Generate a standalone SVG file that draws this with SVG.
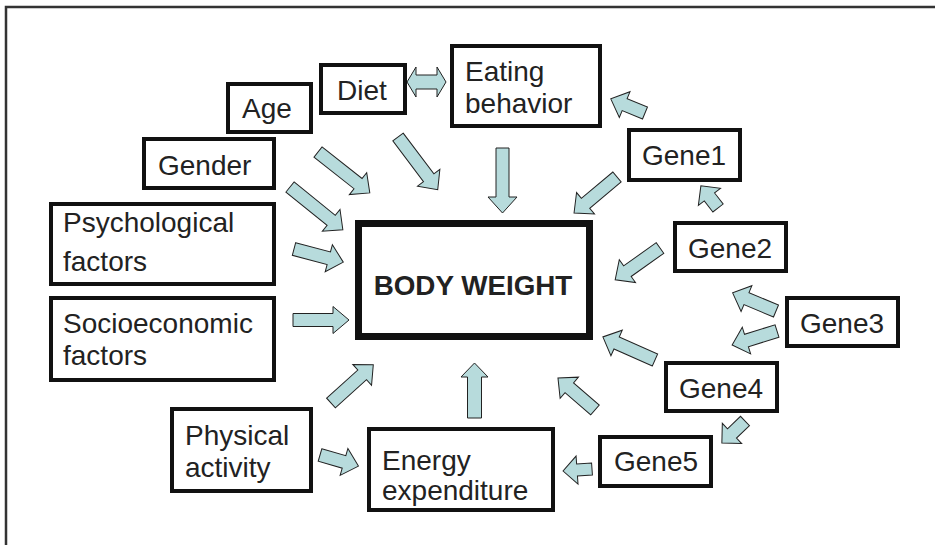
<svg xmlns="http://www.w3.org/2000/svg" width="935" height="545" viewBox="0 0 935 545">
<style>
.box{fill:#fff;stroke:#111;stroke-width:4}
.main{fill:#fff;stroke:#111;stroke-width:7}
.t{font-family:"Liberation Sans",Arial,sans-serif;font-size:28px;fill:#222}
.c{text-anchor:middle}
.b{font-weight:bold;font-size:27.8px}
.arr{fill:#b7dbdc;stroke:#222;stroke-width:1;stroke-linejoin:miter}
.frame{fill:none;stroke:#333;stroke-width:2.5}
</style>
<rect width="935" height="545" fill="#fff"/>
<path class="frame" d="M6,545 V7 H935"/>
<g id="connectors">
<path class="arr" transform="translate(318,152) rotate(38.3)" d="M0,-6.5 H51 V-14 L66,0 L51,14 V6.5 H0 Z"/>
<path class="arr" transform="translate(398,137) rotate(53)" d="M0,-6.5 H51 V-14 L66,0 L51,14 V6.5 H0 Z"/>
<path class="arr" transform="translate(290,187) rotate(39)" d="M0,-6.5 H53 V-14 L68,0 L53,14 V6.5 H0 Z"/>
<path class="arr" transform="translate(294,249) rotate(14.9)" d="M0,-6.5 H36 V-14 L51,0 L36,14 V6.5 H0 Z"/>
<path class="arr" transform="translate(293,320)" d="M0,-6.5 H40 V-13.5 L56,0 L40,13.5 V6.5 H0 Z"/>
<path class="arr" transform="translate(331,403) rotate(-42.1)" d="M0,-6.5 H42 V-14 L57,0 L42,14 V6.5 H0 Z"/>
<path class="arr" transform="translate(320,455) rotate(16.1)" d="M0,-6.5 H25 V-14 L40,0 L25,14 V6.5 H0 Z"/>
<path class="arr" transform="translate(474.5,418) rotate(-90)" d="M0,-7 H41 V-13.5 L55,0 L41,13.5 V7 H0 Z"/>
<path class="arr" transform="translate(502.5,148) rotate(90)" d="M0,-6.5 H49 V-14.5 L65,0 L49,14.5 V6.5 H0 Z"/>
<path class="arr" transform="translate(645,113) rotate(202.4)" d="M0,-6.5 H22 V-14 L37,0 L22,14 V6.5 H0 Z"/>
<path class="arr" transform="translate(617,177) rotate(140.1)" d="M0,-6.5 H41 V-14 L56,0 L41,14 V6.5 H0 Z"/>
<path class="arr" transform="translate(718,208) rotate(232.3)" d="M0,-6.5 H14 V-14 L28,0 L14,14 V6.5 H0 Z"/>
<path class="arr" transform="translate(660,248) rotate(144.6)" d="M0,-6.5 H40 V-14 L55,0 L40,14 V6.5 H0 Z"/>
<path class="arr" transform="translate(776,311) rotate(202.7)" d="M0,-6.5 H32 V-14 L47,0 L32,14 V6.5 H0 Z"/>
<path class="arr" transform="translate(777,331) rotate(162.7)" d="M0,-6.5 H32 V-14 L47,0 L32,14 V6.5 H0 Z"/>
<path class="arr" transform="translate(655,360) rotate(203.9)" d="M0,-6.5 H42 V-14 L57,0 L42,14 V6.5 H0 Z"/>
<path class="arr" transform="translate(595,410) rotate(220.9)" d="M0,-6.5 H34 V-14 L49,0 L34,14 V6.5 H0 Z"/>
<path class="arr" transform="translate(745,421) rotate(136.3)" d="M0,-6.5 H18 V-14 L32,0 L18,14 V6.5 H0 Z"/>
<path class="arr" transform="translate(592,469) rotate(176)" d="M0,-6 H15 V-14 L29,0 L15,14 V6 H0 Z"/>
<path class="arr" d="M407,82 L416,67 V75 H437 V67 L446,82 L437,97 V89 H416 V97 Z"/>
</g>
<g id="diet"><rect class="box" x="321" y="65" width="84" height="48"/><text class="t c" x="362" y="100">Diet</text></g>
<g id="age"><rect class="box" x="228" y="84" width="83" height="48"/><text class="t c" x="267" y="118">Age</text></g>
<g id="gender"><rect class="box" x="144" y="139" width="130" height="49"/><text class="t" x="158" y="175">Gender</text></g>
<g id="psychological"><rect class="box" x="51" y="204" width="223" height="80"/><text class="t" x="63" y="232">Psychological</text><text class="t" x="63" y="271">factors</text></g>
<g id="socioeconomic"><rect class="box" x="51" y="298" width="223" height="82"/><text class="t" x="63" y="333">Socioeconomic</text><text class="t" x="63" y="365">factors</text></g>
<g id="eating"><rect class="box" x="452" y="46" width="148" height="80"/><text class="t" x="465" y="81">Eating</text><text class="t" x="465" y="113">behavior</text></g>
<g id="gene1"><rect class="box" x="629" y="130" width="111" height="50"/><text class="t c" x="684" y="165">Gene1</text></g>
<g id="gene2"><rect class="box" x="675" y="223" width="111" height="48"/><text class="t c" x="730" y="258">Gene2</text></g>
<g id="bodyweight"><rect class="main" x="358.5" y="223.5" width="231" height="113"/><text class="t c b" x="473" y="295">BODY WEIGHT</text></g>
<g id="physical"><rect class="box" x="172" y="409" width="139" height="82"/><text class="t" x="185" y="445">Physical</text><text class="t" x="185" y="477">activity</text></g>
<g id="energy"><rect class="box" x="369" y="429" width="184" height="81"/><text class="t" x="382" y="470">Energy</text><text class="t" x="382" y="500">expenditure</text></g>
<g id="gene3"><rect class="box" x="787" y="298" width="111" height="48"/><text class="t c" x="842" y="333">Gene3</text></g>
<g id="gene4"><rect class="box" x="666" y="363" width="111" height="48"/><text class="t c" x="721" y="398">Gene4</text></g>
<g id="gene5"><rect class="box" x="600" y="437" width="111" height="49"/><text class="t c" x="656" y="471">Gene5</text></g>
</svg>
